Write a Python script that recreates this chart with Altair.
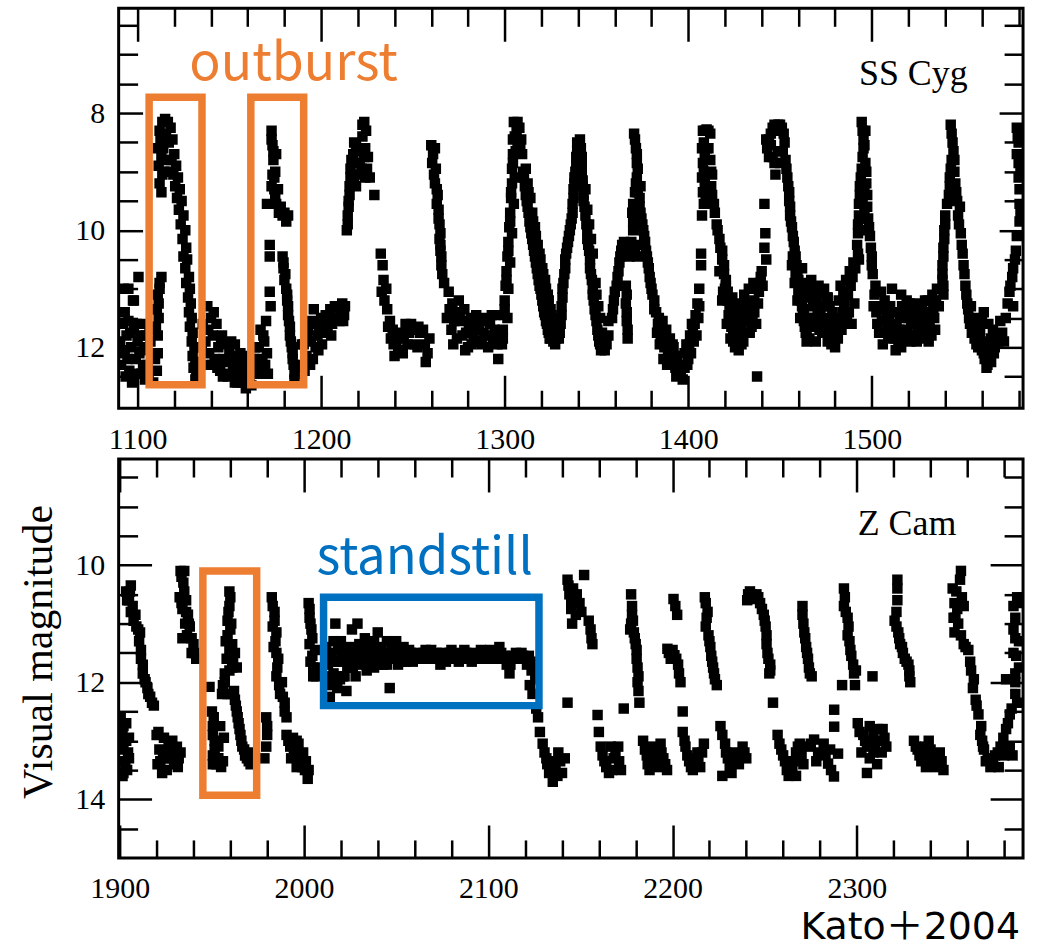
import altair as alt
import pandas as pd

ORANGE = "#ED7D31"
BLUE = "#0070C0"
SERIF = "Liberation Serif"
SANS = "Noto Sans CJK JP"
WIDE_SANS = "DejaVu Sans, Noto Sans CJK JP"

# ---------------- SS Cyg light curve (day, visual magnitude) ----------------
ss_quiet_a = [(1090.5, 11.9), (1091, 12.3), (1092, 11.6), (1092.5, 11.0), (1093, 12.1), (1094, 11.8),
              (1095, 11.0), (1095.5, 12.4), (1096.5, 12.0), (1097.5, 11.2), (1098, 11.7), (1099, 12.2),
              (1100.5, 10.8), (1100, 11.9), (1101, 12.1), (1102, 12.45), (1102.5, 11.6), (1103.5, 12.0),
              (1104.5, 11.8), (1105.5, 12.3), (1106.5, 11.7), (1107.5, 12.1), (1108.5, 12.6), (1093.5, 12.5),
              (1097, 12.6), (1091.5, 12.05), (1093, 11.4), (1094.5, 12.2), (1096, 11.75), (1098.5, 12.45),
              (1099.5, 11.6), (1101.5, 11.8), (1103, 12.3), (1104, 12.55), (1105, 12.05), (1106, 12.45),
              (1107, 11.9), (1095, 11.55), (1098, 11.2)]
ss_ob1 = [(1110.5, 12.4), (1111, 12.1), (1111, 11.8), (1111.5, 11.5), (1111.5, 11.25), (1112, 11.0), (1113, 10.8),
          (1111, 8.6), (1111.5, 8.9), (1112, 9.2), (1112, 8.3), (1113.5, 8.15), (1115, 8.1), (1116.5, 8.15),
          (1118, 8.25), (1119, 8.45), (1120, 8.7), (1121, 8.9), (1114, 8.6), (1114.5, 9.0), (1117, 8.5),
          (1118.5, 8.8), (1113, 9.35),
          (1122, 9.1), (1123, 9.3), (1124, 9.5), (1125, 9.75), (1126, 10.0), (1126.5, 10.3), (1127, 10.5),
          (1128, 10.8), (1128.5, 11.0), (1129, 11.25), (1129.5, 11.5), (1130, 11.75), (1131, 12.0),
          (1131.5, 12.25), (1132, 12.45),
          (1109.5, 12.2), (1110, 11.65), (1110.5, 11.35), (1111, 11.1), (1112, 10.9), (1112.5, 8.45),
          (1113, 8.75), (1113.5, 9.05), (1115.5, 8.35), (1116, 8.8), (1117.5, 9.0), (1119.5, 9.05),
          (1120.5, 9.25), (1121.5, 9.45), (1122.5, 9.65), (1123.5, 9.9), (1124.5, 10.15), (1125, 10.45),
          (1126, 10.65), (1126.5, 10.9), (1127.5, 11.15), (1128, 11.4), (1128.5, 11.65), (1129.5, 11.9),
          (1130, 12.15), (1130.5, 12.35), (1131.5, 12.55)]
ss_quiet_1 = [(1134, 12.3), (1135.5, 11.6), (1137, 11.9), (1138, 11.3), (1139, 12.1), (1140, 11.5), (1141, 11.8),
              (1142, 12.2), (1143, 11.6), (1144, 12.0), (1145, 12.4), (1146, 11.8), (1147, 12.2), (1148, 11.95),
              (1149, 12.5), (1150, 12.1), (1151, 11.9), (1152, 12.3), (1153, 12.6), (1154, 12.2), (1155, 12.45),
              (1156, 12.1), (1157, 12.6), (1158, 12.35), (1159, 12.7), (1160, 12.4), (1161, 12.55), (1162, 12.2),
              (1163, 12.45), (1164, 12.0),
              (1135, 12.0), (1136.5, 12.3), (1138.5, 11.7), (1140.5, 12.3), (1141.5, 11.4), (1143.5, 12.35),
              (1145.5, 11.9), (1146.5, 12.5), (1148.5, 12.25), (1150, 12.45), (1151.5, 12.15), (1153, 11.95),
              (1154.5, 12.6), (1156, 12.35), (1157.5, 12.25), (1159, 12.45), (1160.5, 12.15), (1162, 12.65),
              (1163.5, 12.2)]
ss_ob2 = [(1165, 12.4), (1166, 12.0), (1167, 11.7), (1168, 12.2), (1169, 11.9), (1170, 11.55), (1171, 12.45),
          (1170.5, 12.1), (1172, 10.25), (1172, 10.45), (1172, 11.05), (1172.5, 11.3),
          (1173, 8.3), (1173.5, 8.55), (1174, 8.8), (1173.5, 9.05), (1174.5, 9.3), (1170.5, 9.55), (1175.5, 9.55),
          (1177, 9.7), (1179, 9.75), (1181, 9.85), (1175, 9.0), (1175.5, 8.7), (1176.5, 9.3),
          (1179, 10.45), (1179.5, 10.65), (1180, 10.85), (1181, 11.0), (1181.5, 11.2), (1182, 11.45),
          (1183, 11.65), (1183.5, 11.9), (1184.5, 12.1), (1185, 12.3), (1185.5, 12.45),
          (1166, 12.3), (1167.5, 12.45), (1168.5, 11.8), (1169.5, 12.3), (1173, 8.45), (1174, 8.65),
          (1174.5, 9.1), (1173, 9.25), (1175, 9.45), (1178, 9.6), (1180, 9.7), (1182, 9.75), (1179.5, 10.55),
          (1180.5, 10.75), (1181.5, 11.1), (1182, 11.3), (1182.5, 11.55), (1183, 11.8), (1184, 12.0),
          (1184.5, 12.2), (1185.5, 12.55), (1186.5, 12.35)]
ss_quiet_2 = [(1189, 12.3), (1190.5, 11.95), (1192, 12.15), (1193, 11.7), (1194.5, 11.9), (1195.5, 12.2),
              (1196.5, 11.6), (1198, 11.8), (1198.5, 12.05), (1200, 11.5), (1201, 11.75), (1202.5, 11.45),
              (1203.5, 11.7), (1205, 11.35), (1206, 11.6), (1207.5, 11.3), (1209, 11.5), (1210.5, 11.35),
              (1212, 11.55), (1213, 11.3), (1196, 11.35),
              (1189.5, 11.95), (1191, 12.4), (1192.5, 11.85), (1194, 12.3), (1195, 11.55), (1197, 12.0),
              (1199, 11.65), (1200.5, 11.95), (1202, 11.7), (1204, 11.55), (1205.5, 11.8), (1207, 11.5),
              (1208.5, 11.3), (1210, 11.55), (1211.5, 11.25), (1212.5, 11.45)]
ss_ob3 = [(1214, 10.0), (1214.5, 9.75), (1215, 9.5), (1215.5, 9.25), (1216, 8.95), (1217.5, 8.7), (1219, 8.55),
          (1219.5, 8.85), (1220.5, 9.05), (1221.5, 8.6), (1222.5, 8.4), (1223.5, 8.15), (1224.5, 8.3),
          (1223.5, 8.75), (1225, 8.95), (1226.5, 9.1), (1218, 9.2), (1229, 9.4), (1232.5, 10.4),
          (1234, 10.85), (1233, 11.05), (1236, 11.35), (1237.5, 11.55), (1239, 11.7), (1239.5, 11.95),
          (1240, 12.15), (1243, 11.75), (1246, 11.6), (1248, 11.75), (1250.5, 11.7), (1252.5, 12.0),
          (1254, 11.75), (1255.5, 11.7), (1258, 12.1), (1244.5, 12.1),
          (1214.5, 9.9), (1215, 9.6), (1215.5, 9.4), (1216, 9.1), (1216.5, 8.8), (1218, 8.5), (1220, 8.65),
          (1221, 8.85), (1222, 8.95), (1222.5, 8.2), (1224, 8.6), (1225.5, 8.75), (1224, 9.1), (1217, 9.05),
          (1219, 9.25), (1233.5, 10.6), (1234.5, 11.2), (1235.5, 11.0), (1236.5, 11.65), (1238, 11.85),
          (1241, 11.9), (1242, 12.05), (1245, 11.85), (1247, 11.95), (1249, 11.6), (1251, 11.95),
          (1253, 11.65), (1256.5, 11.95), (1257, 12.25), (1259, 11.85)]
ss_ob4 = [(1260, 8.55), (1262, 8.6), (1260.5, 8.85), (1262.5, 8.95), (1262, 9.2), (1263.5, 9.4), (1264, 9.65),
          (1264.5, 9.9), (1264.5, 10.15), (1265, 10.35), (1265.5, 10.6), (1266, 10.75),
          (1269.5, 11.05), (1271.5, 11.25), (1268.5, 11.5), (1271, 11.7), (1272, 11.95), (1273.5, 11.4),
          (1275, 11.2), (1276.5, 11.55), (1278, 11.35), (1279, 11.75), (1280, 12.0), (1281.5, 11.5),
          (1283, 11.8), (1284.5, 11.45), (1286, 11.7), (1287.5, 11.95), (1289, 11.5), (1290.5, 11.8),
          (1292, 11.6), (1293.5, 11.85), (1295, 11.45), (1296.5, 12.2),
          (1261, 8.7), (1261.5, 9.05), (1263, 9.3), (1263, 9.55), (1264, 9.8), (1265, 10.05), (1265, 10.25),
          (1265.5, 10.45), (1267, 10.9), (1270, 11.35), (1272.5, 11.55), (1274, 11.85), (1275.5, 11.45),
          (1277, 11.8), (1278.5, 12.05), (1280.5, 11.65), (1282, 11.95), (1283.5, 11.55), (1285.5, 11.9),
          (1287, 11.55), (1288.5, 11.75), (1290, 11.55), (1291, 12.0), (1293, 11.45), (1294.5, 11.7),
          (1296, 11.95), (1297.5, 11.8)]
ss_ob5 = [(1298.5, 11.95), (1299, 11.7), (1299.5, 11.45), (1300, 11.2), (1300.5, 10.95), (1301, 10.7),
          (1301.5, 10.45), (1302, 10.2), (1302.5, 9.95), (1303, 9.7), (1303.5, 9.45), (1304, 9.2), (1304, 8.95),
          (1304.5, 8.7), (1304.5, 8.45), (1305, 8.15), (1306.5, 8.3), (1308, 8.25), (1309, 8.45),
          (1301.5, 11.5), (1302, 11.0), (1303, 10.55), (1304, 10.05), (1305, 9.55), (1305.5, 9.1), (1306, 8.65),
          (1309.5, 8.7), (1310, 9.0), (1311, 9.25), (1312, 9.5), (1313, 9.7), (1314, 9.95), (1315, 10.15),
          (1316, 10.35), (1317, 10.55), (1318, 10.75), (1319, 10.95), (1320, 11.1), (1321, 11.3), (1322, 11.45),
          (1323, 11.6), (1324, 11.75), (1325, 11.85), (1326.5, 11.9), (1328, 11.85),
          (1311.5, 8.95), (1312.5, 9.2), (1314, 9.45), (1315, 9.7), (1316.5, 9.95), (1318, 10.25),
          (1319.5, 10.5), (1321, 10.75), (1322.5, 11.0), (1324, 11.2), (1325.5, 11.45), (1327, 11.6),
          (1299, 11.85), (1300, 11.35), (1301, 10.85), (1302, 10.35), (1303, 9.85), (1303.5, 9.35),
          (1304.5, 8.85), (1305.5, 8.4), (1307, 8.15), (1307, 8.5), (1308.5, 8.6), (1310.5, 9.1),
          (1311.5, 9.4), (1312.5, 9.6), (1313.5, 9.85), (1314.5, 10.05), (1315.5, 10.25), (1316.5, 10.45),
          (1317.5, 10.65), (1318.5, 10.85), (1319.5, 11.0), (1320.5, 11.2), (1321.5, 11.4), (1322.5, 11.55),
          (1323.5, 11.7), (1324.5, 11.85), (1326, 11.7), (1327.5, 11.95), (1313, 9.35), (1315.5, 9.85),
          (1317, 10.1), (1319, 10.4), (1320.5, 10.65), (1322, 10.85), (1323.5, 11.1), (1325, 11.35),
          (1326.5, 11.5)]
ss_ob6 = [(1329.5, 11.85), (1330.5, 11.6), (1331, 11.3), (1331.5, 11.0), (1332.5, 10.75), (1333, 10.5),
          (1334, 10.3), (1335, 10.1), (1336, 9.9), (1337, 9.7), (1337.5, 9.45), (1338, 9.2), (1338.5, 9.0),
          (1339, 8.75), (1339.5, 8.5), (1341, 8.45),
          (1342, 8.75), (1342, 9.0), (1342.5, 9.25), (1343, 9.5), (1344, 9.75), (1345, 10.0), (1345.5, 10.25),
          (1346.5, 10.5), (1347, 10.75), (1348, 11.0), (1348.5, 11.2), (1349.5, 11.45), (1350.5, 11.7),
          (1351.5, 11.9), (1352.5, 12.05), (1354.5, 12.05), (1356.5, 11.8), (1356.5, 11.55),
          (1344, 9.3), (1346, 9.9), (1348, 10.4), (1349.5, 10.9), (1351, 11.3), (1353, 11.75),
          (1330, 11.75), (1331, 11.45), (1331.5, 11.15), (1332, 10.9), (1333, 10.65), (1333.5, 10.4),
          (1334.5, 10.2), (1335.5, 10.0), (1336.5, 9.8), (1337, 9.55), (1337.5, 9.3), (1338, 9.1),
          (1339, 8.9), (1339.5, 8.65), (1340.5, 8.6), (1341.5, 8.6), (1342, 8.9), (1342.5, 9.15),
          (1343, 9.4), (1343.5, 9.6), (1344.5, 9.9), (1345, 10.15), (1346, 10.35), (1346.5, 10.65),
          (1347.5, 10.85), (1348, 11.1), (1349, 11.35), (1350, 11.55), (1351, 11.8), (1352, 11.95),
          (1353.5, 12.0), (1355.5, 11.95), (1345, 9.65), (1347, 10.15), (1350, 11.1), (1352, 11.5)]
ss_ob7 = [(1358.5, 11.5), (1359.5, 11.2), (1361, 10.95), (1362, 10.7), (1363, 10.45), (1364, 10.25),
          (1366, 10.3), (1368, 10.45), (1370, 10.3), (1372, 10.45), (1366, 10.95), (1366, 11.25),
          (1366.5, 11.55), (1367, 11.85),
          (1370.5, 8.35), (1371.5, 8.6), (1372, 8.85), (1372, 9.1), (1371, 9.35), (1373.5, 9.45), (1374, 9.7),
          (1375, 9.9), (1376, 10.1), (1377, 10.35), (1378, 10.55), (1379, 10.8), (1380, 11.0), (1381.5, 11.2),
          (1369.5, 9.7), (1370, 10.0), (1382.5, 11.4),
          (1359, 11.35), (1360, 11.05), (1361.5, 10.8), (1362.5, 10.55), (1363.5, 10.35), (1365, 10.2),
          (1367, 10.35), (1369, 10.2), (1371, 10.4), (1373, 10.25), (1366.5, 11.1), (1366.5, 11.4),
          (1367, 11.7), (1371, 8.45), (1372, 8.7), (1372.5, 8.95), (1371.5, 9.2), (1372.5, 9.35),
          (1373.5, 9.6), (1374.5, 9.8), (1375.5, 10.0), (1376.5, 10.2), (1377.5, 10.45), (1378.5, 10.65),
          (1379.5, 10.9), (1380.5, 11.1), (1381.5, 11.35), (1370, 9.55), (1370, 9.85), (1374, 9.25)]
ss_quiet_8 = [(1384, 11.5), (1385, 11.8), (1386, 11.55), (1387, 12.0), (1388, 11.7), (1389, 12.1), (1390, 11.85),
              (1391, 12.25), (1392, 12.0), (1393, 12.35), (1394, 12.15), (1395, 12.45), (1396, 12.3),
              (1397, 12.55), (1398, 12.1), (1399, 11.95), (1400, 12.2), (1401, 11.8), (1402, 11.6),
              (1403, 11.9), (1404, 11.45), (1405, 11.25), (1406, 11.0), (1383, 11.75), (1386.5, 12.2),
              (1383.5, 11.6), (1384.5, 11.95), (1385.5, 11.65), (1387.5, 11.85), (1388.5, 12.3), (1390, 12.05),
              (1391.5, 11.95), (1392.5, 12.2), (1393.5, 12.5), (1394.5, 12.3), (1396, 12.45), (1398, 12.35),
              (1399.5, 12.3), (1400.5, 11.95), (1401.5, 12.1), (1402.5, 11.75), (1403.5, 11.6), (1404.5, 11.8),
              (1405.5, 11.5), (1406, 11.3)]
ss_ob8 = [(1408, 8.3), (1410, 8.28), (1412, 8.35), (1407.5, 8.6), (1408, 8.85), (1407.5, 9.1), (1408, 9.35),
          (1407.5, 9.75), (1407, 10.4), (1407, 10.6), (1412, 8.8), (1412.5, 9.25), (1414, 9.55), (1415.5, 9.9),
          (1409.5, 9.5), (1413, 9.05), (1410, 8.6),
          (1417, 10.15), (1418.5, 10.35), (1419.5, 10.6), (1420.5, 10.85), (1421.5, 11.05), (1422.5, 11.3),
          (1423.5, 11.5), (1424.5, 11.75), (1425.5, 12.0), (1427.5, 12.05), (1429, 11.7), (1430, 11.9),
          (1431, 11.5), (1432, 11.75), (1433, 11.55), (1434, 11.3), (1435, 11.5), (1436, 11.2), (1437, 11.0),
          (1438, 11.25), (1439, 10.9), (1440, 10.7), (1420, 11.0), (1422, 11.45), (1424, 11.15), (1426, 11.4),
          (1428, 11.25), (1430.5, 11.1), (1433, 11.0), (1435.5, 10.9), (1437.5, 12.5), (1427, 11.75),
          (1417, 10.7), (1418.5, 11.2),
          (1409, 8.3), (1411, 8.3), (1408.5, 8.5), (1409, 8.75), (1408.5, 9.0), (1409, 9.2), (1408.5, 9.55),
          (1411, 8.6), (1412.5, 9.0), (1413, 9.4), (1414.5, 9.7), (1416, 10.0), (1411, 9.35), (1417.5, 10.3),
          (1418.5, 10.5), (1419.5, 10.75), (1420.5, 10.95), (1421.5, 11.2), (1422.5, 11.5), (1423.5, 11.65),
          (1424.5, 11.9), (1425.5, 11.6), (1426.5, 11.9), (1428, 11.55), (1429.5, 11.35), (1431, 11.25),
          (1432, 11.35), (1433.5, 11.75), (1434.5, 11.65), (1436, 11.4), (1437, 11.6), (1438.5, 11.05),
          (1439.5, 10.8), (1440.5, 10.95), (1419, 11.05), (1421, 11.6), (1423, 11.85), (1425, 11.3),
          (1427, 11.5), (1429, 11.95)]
ss_ob9 = [(1441.5, 9.55), (1442, 10.05), (1441.5, 10.3), (1442.5, 10.5), (1442.5, 8.45), (1444, 8.75),
          (1445, 8.35), (1447, 8.2), (1449, 8.2), (1451, 8.25), (1452.5, 8.5), (1446, 8.75), (1447.5, 9.05),
          (1450, 8.85), (1453, 8.8), (1454, 9.1), (1455, 9.35), (1455.5, 9.6), (1456, 9.85), (1457, 10.1),
          (1458, 10.35), (1459, 10.6), (1460, 10.85), (1461, 11.05), (1462, 11.3), (1463, 11.55),
          (1464, 11.75), (1456.5, 10.6), (1458, 10.9), (1459.5, 11.2), (1461, 11.5),
          (1443, 8.6), (1444, 8.45), (1446, 8.25), (1448, 8.3), (1450, 8.2), (1452, 8.35), (1445, 8.55),
          (1447, 8.85), (1449, 8.65), (1451.5, 8.65), (1453.5, 8.95), (1454.5, 9.25), (1455, 9.5),
          (1455.5, 9.75), (1456.5, 9.95), (1457.5, 10.2), (1458.5, 10.45), (1459.5, 10.7), (1460.5, 10.95),
          (1461.5, 11.2), (1462.5, 11.45), (1463.5, 11.65), (1457, 10.45), (1458.5, 10.75), (1460, 11.05),
          (1464.5, 11.9)]
ss_quiet_10 = [(1462, 10.65), (1463.5, 11.1), (1465, 11.5), (1466, 11.85), (1467, 10.85), (1468, 11.3),
               (1469, 11.65), (1470, 11.2), (1471, 10.95), (1472, 11.4), (1473, 11.75), (1474, 11.0),
               (1475, 11.5), (1476, 11.9), (1477, 11.3), (1478, 11.95), (1479, 11.6), (1480, 12.0),
               (1481, 11.5), (1482, 11.2), (1483, 10.95), (1484, 11.4), (1485, 11.25), (1486, 10.85),
               (1487, 11.1), (1488, 10.7), (1489, 11.6), (1490, 10.55), (1476, 11.15), (1470, 11.55),
               (1480.5, 11.75), (1466, 11.0), (1483.5, 11.7), (1486.5, 11.45),
               (1462.5, 10.9), (1463, 11.35), (1464.5, 11.7), (1465.5, 11.15), (1467.5, 11.1), (1468.5, 11.5),
               (1469.5, 11.9), (1470.5, 11.35), (1471.5, 11.7), (1472.5, 11.05), (1473.5, 11.3),
               (1474.5, 11.65), (1475.5, 11.15), (1476.5, 11.55), (1477.5, 11.75), (1478.5, 11.4),
               (1479.5, 11.85), (1481.5, 11.85), (1482.5, 11.55), (1484.5, 11.05), (1485.5, 11.6),
               (1487.5, 11.4), (1488.5, 10.95), (1489.5, 10.8), (1490.5, 11.25), (1491, 10.65)]
ss_ob10 = [(1494.5, 8.15), (1496.5, 8.3), (1495.5, 8.6), (1494.5, 8.95), (1493.5, 9.25), (1493, 9.55),
           (1492.5, 9.9), (1492, 10.25), (1493, 10.5), (1497, 9.0), (1497.5, 9.4), (1498, 9.8), (1499, 10.1),
           (1500, 10.45), (1500.5, 10.75), (1496, 9.7), (1496, 9.3), (1495, 10.0),
           (1495, 8.3), (1495.5, 8.45), (1495, 8.75), (1494, 9.1), (1493.5, 9.4), (1493, 9.75), (1492.5, 10.05),
           (1492.5, 10.4), (1496, 8.55), (1496.5, 8.85), (1497, 9.2), (1497.5, 9.6), (1498.5, 9.95),
           (1499.5, 10.3), (1500, 10.6), (1495, 9.5), (1494.5, 9.8)]
ss_quiet_11 = [(1501.5, 11.1), (1502.5, 11.4), (1504, 11.75), (1505, 11.05), (1507, 11.2), (1508, 11.5),
               (1509, 11.85), (1510, 11.3), (1511, 11.0), (1512, 11.6), (1513, 12.05), (1514, 11.4),
               (1515, 11.7), (1516, 11.1), (1517, 11.5), (1518, 11.85), (1519, 11.2), (1520, 11.5),
               (1521, 11.9), (1522, 11.3), (1523, 11.6), (1524, 11.25), (1525, 11.7), (1526, 11.45),
               (1527, 11.85), (1528, 11.5), (1529, 11.2), (1530, 11.65), (1531, 11.9), (1532, 11.4),
               (1533, 11.1), (1534, 11.5), (1535, 11.2), (1506, 11.95), (1516, 12.0),
               (1501, 11.3), (1502, 10.95), (1503, 11.6), (1504.5, 11.3), (1505.5, 11.55), (1506.5, 11.75),
               (1507.5, 11.35), (1508.5, 11.7), (1509.5, 11.55), (1510.5, 11.75), (1511.5, 11.4),
               (1512.5, 11.85), (1513.5, 11.6), (1514.5, 11.9), (1515.5, 11.45), (1516.5, 11.3),
               (1517.5, 11.7), (1518.5, 11.4), (1519.5, 11.75), (1520.5, 11.25), (1521.5, 11.55),
               (1522.5, 11.8), (1523.5, 11.4), (1524.5, 11.9), (1525.5, 11.3), (1526.5, 11.65),
               (1527.5, 11.35), (1528.5, 11.75), (1529.5, 11.45), (1530.5, 11.2), (1531.5, 11.6),
               (1532.5, 11.8), (1533.5, 11.35), (1534.5, 11.7), (1535.5, 11.0), (1536.5, 11.3)]
ss_ob11 = [(1543, 8.2), (1544, 8.5), (1543.5, 8.8), (1542.5, 9.1), (1542, 9.4), (1540, 9.75), (1539.5, 10.0),
           (1539, 10.3), (1538.5, 10.6), (1538.5, 10.85), (1539, 11.1), (1546, 9.35), (1545, 9.0),
           (1547.5, 9.9), (1549, 10.25), (1550, 10.6), (1551, 10.95), (1552, 11.25), (1553, 11.5),
           (1554.5, 11.75), (1556, 11.85), (1558, 12.0), (1560, 12.05), (1561.5, 12.2), (1563, 12.3),
           (1565, 12.25), (1567, 12.0), (1566, 11.7), (1561, 11.4), (1563.5, 11.6), (1569, 11.9),
           (1571, 11.75), (1573, 11.5), (1556, 11.5), (1559, 11.7), (1548, 9.6),
           (1543.5, 8.35), (1544.5, 8.65), (1543, 8.95), (1542.5, 9.25), (1541, 9.55), (1540, 9.9),
           (1539.5, 10.15), (1539, 10.45), (1538.5, 10.75), (1539, 10.95), (1545, 8.8), (1545.5, 9.2),
           (1546.5, 9.5), (1547, 9.75), (1548.5, 10.05), (1549.5, 10.4), (1550.5, 10.75), (1551.5, 11.1),
           (1552.5, 11.35), (1553.5, 11.6), (1555, 11.65), (1557, 11.95), (1559, 11.85), (1561, 12.1),
           (1562, 11.9), (1564, 12.05), (1565, 11.85), (1566.5, 12.1), (1568, 11.8), (1570, 11.55),
           (1572, 11.9), (1560, 11.55), (1562.5, 12.35), (1554, 11.3)]
ss_ob12 = [(1575, 11.05), (1576.5, 10.8), (1578, 10.5), (1579, 8.25), (1579, 8.7), (1580, 9.1),
           (1580.5, 9.55), (1580.5, 9.85), (1580, 8.5), (1581, 8.95), (1577, 11.3),
           (1574, 11.25), (1575.5, 10.95), (1577, 10.65), (1578.5, 10.35), (1579.5, 8.4), (1580, 8.85),
           (1580.5, 9.3), (1581, 9.7), (1579, 10.1)]

# ---------------- Z Cam light curve (day, visual magnitude) ----------------
zc_a = [(1903.5, 10.45), (1905, 10.6), (1906, 10.35), (1906, 10.8), (1907.5, 10.95), (1909, 11.05),
        (1911, 11.15), (1911.5, 11.45), (1912.5, 11.7), (1913.5, 11.95), (1915, 12.1), (1916.5, 12.25),
        (1918.5, 12.4), (1900.5, 12.6), (1903.5, 12.7), (1901.5, 12.9), (1905, 12.95), (1902, 13.15),
        (1900.5, 13.35), (1903, 13.4), (1901.5, 13.6), (1905, 13.3),
        (1904, 10.6), (1905.5, 10.45), (1907, 10.7), (1908.5, 10.85), (1910, 11.1), (1910.5, 11.3),
        (1911.5, 11.6), (1912.5, 11.85), (1914, 12.0), (1915.5, 12.2), (1917.5, 12.35), (1902, 12.75),
        (1903.5, 13.0), (1904.5, 13.2), (1902, 13.55), (1900.5, 13.05), (1904, 13.5)]
zc_quiet_1 = [(1920, 12.9), (1921.5, 13.15), (1920.5, 13.4), (1923, 13.55), (1925, 13.3), (1926.5, 13.05),
              (1928, 13.2), (1929.5, 13.4), (1931, 13.1), (1932, 13.3), (1924, 12.95),
              (1921, 12.85), (1922, 13.35), (1923.5, 13.2), (1925.5, 13.5), (1927, 13.3), (1928.5, 13.0),
              (1930, 13.25), (1931.5, 13.45), (1933, 13.2)]
zc_ob2 = [(1933, 10.1), (1934.5, 10.3), (1932.5, 10.55), (1934, 10.75), (1936, 10.6), (1937, 10.85),
          (1935.5, 11.0), (1938, 11.05), (1934, 11.25), (1940, 11.35), (1941.5, 11.6), (1939, 11.5),
          (1933.5, 10.2), (1935, 10.45), (1933.5, 10.65), (1936, 10.8), (1937.5, 11.0), (1936.5, 11.2),
          (1939, 11.25), (1940.5, 11.5), (1935, 10.1)]
zc_ob3 = [(1959.5, 10.45), (1959.5, 10.7), (1958.5, 10.95), (1960, 11.1), (1957.5, 11.3), (1961, 11.35),
          (1958, 11.6), (1961.5, 11.6), (1963.5, 11.75), (1959.5, 11.8), (1957, 11.85),
          (1948.7, 12.08), (1956, 12.05), (1958.5, 12.2), (1950, 12.5), (1950.5, 12.75), (1951.5, 13.0),
          (1950.5, 13.25), (1952.5, 13.4), (1956, 13.35), (1954.5, 12.75), (1953.5, 13.1), (1956.5, 12.95),
          (1962, 12.15), (1963, 12.4), (1964, 12.6), (1965, 12.8), (1966, 13.0), (1967.5, 13.15),
          (1969, 13.3), (1971, 13.4), (1972, 13.2),
          (1960, 10.55), (1959, 10.8), (1960.5, 11.0), (1958.5, 11.2), (1959.5, 11.45), (1962.5, 11.5),
          (1961, 11.75), (1955.5, 12.2), (1957, 12.0), (1951, 12.6), (1950.5, 12.9), (1951.5, 13.15),
          (1953.5, 13.3), (1955, 13.45), (1950.5, 13.4), (1962.5, 12.3), (1963.5, 12.5), (1964.5, 12.7),
          (1965.5, 12.9), (1966.5, 13.1), (1968, 13.25), (1970, 13.35), (1960.5, 12.2)]
zc_ob4 = [(1982.5, 10.55), (1984, 10.8), (1983, 11.05), (1985, 11.15), (1983.5, 11.4), (1986, 11.6),
          (1985, 11.9), (1988, 12.0), (1987, 12.2), (1989.5, 12.35), (1990.5, 12.6), (1979.5, 12.6),
          (1980, 12.9), (1978.5, 13.3),
          (1983, 10.7), (1984, 10.95), (1984.5, 11.3), (1985, 11.5), (1985.5, 11.75), (1986.5, 12.05),
          (1988.5, 12.25), (1989.5, 12.5), (1980, 12.75), (1979.5, 13.1)]
zc_quiet_4 = [(1990.5, 12.9), (1992.5, 13.1), (1994, 12.95), (1995, 13.25), (1997, 13.05), (1998, 13.35),
              (1999.5, 13.2), (2000.5, 13.5), (2002, 13.65), (1996, 13.45),
              (1991.5, 13.0), (1993, 13.3), (1994.5, 13.15), (1996, 13.0), (1997.5, 13.25), (1999, 13.45),
              (2001, 13.35), (2002.5, 13.5)]
zc_ob5 = [(2002.5, 10.65), (2003, 10.9), (2004, 11.1), (2003, 11.35), (2006, 11.45), (2003.5, 11.65),
          (2005, 11.9), (2007.5, 11.75),
          (2003, 10.75), (2003.5, 11.0), (2004.5, 11.25), (2004.5, 11.55), (2005, 11.75), (2006.5, 11.9)]
zc_standstill = [(2012, 11.4), (2012.5, 12.0), (2013, 11.7), (2014, 12.25), (2015, 11.55), (2016, 11.85),
                 (2017, 11.0), (2018, 12.1), (2019, 11.65), (2020, 11.3), (2021, 11.9), (2022, 11.6),
                 (2023, 12.15), (2024, 11.45), (2025, 11.75), (2026, 11.1), (2027, 11.6), (2028, 11.9),
                 (2029, 11.0), (2030, 11.35), (2031, 11.7), (2032, 11.55), (2033, 11.25), (2034, 11.8),
                 (2035, 11.5), (2036, 11.65), (2037, 11.4), (2038, 11.75), (2039, 11.5), (2040, 11.15),
                 (2041, 11.6), (2042, 11.4), (2043, 11.7), (2044, 11.5), (2045, 11.3), (2046.5, 12.1),
                 (2047, 11.55), (2048, 11.35), (2049, 11.6), (2050, 11.3), (2051, 11.55), (2052, 11.45),
                 (2053, 11.65), (2054, 11.4), (2056, 11.55), (2058, 11.5), (2060, 11.6), (2062, 11.5),
                 (2064, 11.55), (2066, 11.45), (2068, 11.6), (2070, 11.55), (2072, 11.5), (2074, 11.7),
                 (2076, 11.55), (2078, 11.6), (2080, 11.45), (2082, 11.55), (2084, 11.65), (2086, 11.6),
                 (2088, 11.5), (2090, 11.6), (2092, 11.5), (2094, 11.55), (2096, 11.45), (2098, 11.6),
                 (2100, 11.6), (2102, 11.55), (2104, 11.5), (2106, 11.4), (2108, 11.6), (2110, 11.7),
                 (2111.5, 11.85), (2113, 11.55), (2115, 11.5), (2117, 11.6), (2119, 11.55), (2121, 11.7),
                 (2122.5, 12.05), (2124, 12.2), (2125, 11.65), (2126, 12.45),
                 (2013, 11.5), (2014, 11.9), (2015, 12.05), (2016, 11.3), (2017.5, 11.65), (2018.5, 11.45),
                 (2019.5, 11.95), (2020.5, 11.6), (2022, 11.9), (2023.5, 11.75), (2025, 11.4), (2026.5, 11.75),
                 (2028, 11.45), (2030, 11.6), (2031.5, 11.45), (2033, 11.65), (2035, 11.35), (2036.5, 11.55),
                 (2038, 11.3), (2040, 11.7), (2041.5, 11.5), (2043.5, 11.55), (2045, 11.7), (2047.5, 11.4),
                 (2049.5, 11.45), (2051, 11.7), (2053.5, 11.5), (2055, 11.65), (2057, 11.45), (2059, 11.65),
                 (2061, 11.55), (2063, 11.6), (2065, 11.5), (2067, 11.55), (2069, 11.45), (2071, 11.6),
                 (2073, 11.6), (2075, 11.5), (2077, 11.65), (2079, 11.5), (2081, 11.6), (2083, 11.5),
                 (2085, 11.55), (2087, 11.45), (2089, 11.55), (2091, 11.65), (2093, 11.55), (2095, 11.6),
                 (2097, 11.5), (2099, 11.55), (2101, 11.45), (2103, 11.6), (2105, 11.55), (2107, 11.5),
                 (2109, 11.55), (2112, 11.7), (2114, 11.6), (2116, 11.55), (2118, 11.5), (2120, 11.6),
                 (2122, 11.55), (2123.5, 11.8), (2125.5, 11.95)]
zc_quiet_6 = [(2129.5, 13.05), (2131.5, 13.3), (2133, 13.55), (2135, 13.7), (2136.5, 13.45), (2138, 13.2),
              (2140, 13.55), (2141.5, 13.3), (2143, 12.35), (2127, 12.6),
              (2130.5, 13.2), (2132, 13.4), (2134, 13.35), (2137.5, 13.6), (2139, 13.35), (2128, 12.85)]
zc_ob6 = [(2143, 10.25), (2144, 10.5), (2146, 10.4), (2145, 10.75), (2147.5, 10.85), (2149.5, 10.65),
          (2152, 10.17), (2155.5, 11.1), (2156.5, 11.35), (2145.5, 11.0),
          (2143.5, 10.35), (2145, 10.6), (2146.5, 10.6), (2148, 10.5), (2150.5, 10.8), (2156, 11.25),
          (2154.5, 10.95)]
zc_quiet_7 = [(2159.3, 12.56), (2161, 13.1), (2163, 13.35), (2165.5, 13.55), (2168, 13.3), (2170.5, 13.1),
              (2172, 13.5), (2173.5, 12.45), (2166.5, 13.1),
              (2160, 12.85), (2162, 13.25), (2164, 13.45), (2167, 13.5), (2169, 13.2), (2171, 13.35)]
zc_ob7 = [(2178, 10.7), (2178.5, 10.95), (2177, 11.1), (2179.5, 11.25), (2180.5, 11.45), (2181, 11.75),
          (2181, 12.0), (2182, 12.35), (2177.5, 10.5),
          (2178, 10.85), (2177.5, 11.0), (2179, 11.15), (2180, 11.35), (2180.5, 11.6), (2181.5, 11.9),
          (2181.5, 12.15)]
zc_quiet_8 = [(2184, 13.0), (2186, 13.25), (2187.5, 13.5), (2189, 13.1), (2191, 13.35), (2193.5, 13.05),
              (2195, 13.3), (2197, 13.5),
              (2185, 13.15), (2186.5, 13.4), (2188, 13.25), (2190, 13.2), (2192, 13.45), (2194, 13.2),
              (2196, 13.4)]
zc_ob8 = [(2200.5, 10.58), (2202.5, 10.85), (2197.2, 11.43), (2201, 11.54), (2203, 11.7), (2204.3, 12.0),
          (2199, 11.6), (2205.5, 12.5),
          (2201.5, 10.7), (2198, 11.5), (2202, 11.6), (2203.5, 11.85), (2200, 11.45)]
zc_quiet_9 = [(2205.5, 12.85), (2207, 13.1), (2209, 13.35), (2211, 13.5), (2213.5, 13.2), (2215, 13.45),
              (2217, 13.05),
              (2206.5, 13.0), (2208, 13.25), (2210, 13.45), (2212, 13.3), (2214, 13.35), (2216, 13.2)]
zc_ob9 = [(2217.5, 10.55), (2219, 10.8), (2218, 11.05), (2220, 11.3), (2221, 11.55), (2222, 11.75),
          (2223, 11.95), (2224, 12.05),
          (2218, 10.65), (2218.5, 10.9), (2219.5, 11.2), (2220.5, 11.4), (2221.5, 11.65), (2222.5, 11.85)]
zc_quiet_10 = [(2226, 12.75), (2228.5, 13.05), (2230, 13.3), (2232, 13.55), (2234, 13.2), (2236, 13.4),
               (2238, 13.1), (2240, 13.3), (2227, 13.6),
               (2227, 12.9), (2229, 13.2), (2231, 13.45), (2233, 13.35), (2235, 13.3), (2237, 13.25),
               (2239, 13.2)]
zc_ob10 = [(2240.5, 10.6), (2242, 10.45), (2244, 10.58), (2246.5, 10.55), (2248.5, 10.75), (2250, 10.95),
           (2251, 11.2), (2251.5, 11.5), (2253, 11.7), (2252.5, 11.85), (2254.5, 12.35),
           (2241, 10.5), (2243, 10.5), (2245.5, 10.5), (2247.5, 10.65), (2249.5, 10.85), (2250.5, 11.05),
           (2251, 11.35), (2252, 11.6), (2253, 11.8)]
zc_quiet_11 = [(2257, 12.9), (2259, 13.15), (2261, 13.35), (2263, 13.6), (2265, 13.45), (2267, 13.2),
               (2269, 13.05), (2271, 13.4), (2267, 13.6),
               (2258, 13.05), (2260, 13.25), (2262, 13.5), (2264, 13.5), (2266, 13.35), (2268, 13.1),
               (2270, 13.25)]
zc_ob11 = [(2270.5, 10.7), (2271, 11.0), (2272, 11.25), (2273, 11.5), (2274, 11.75), (2275.5, 11.9),
           (2270.5, 10.85), (2271.5, 11.15), (2272.5, 11.4), (2273.5, 11.6), (2274.5, 11.85)]
zc_quiet_12 = [(2273.6, 13.1), (2276.8, 12.98), (2280.6, 13.22), (2284.4, 13.39), (2287.6, 13.61),
               (2289.8, 13.22), (2287.7, 12.76), (2287.7, 12.47), (2278, 13.35), (2282, 13.05),
               (2275, 13.05), (2279, 13.2), (2283, 13.25), (2286, 13.5), (2285.5, 13.15)]
zc_ob12 = [(2293, 10.4), (2293, 10.7), (2295, 10.9), (2295, 11.2), (2296.5, 11.45), (2298, 11.7),
           (2299.5, 11.8), (2292, 12.05), (2299, 12.05), (2308.5, 11.9),
           (2293.5, 10.55), (2294, 10.8), (2295.5, 11.05), (2296, 11.3), (2297, 11.55), (2298.5, 11.85)]
zc_quiet_13 = [(2300.5, 12.7), (2303.5, 12.9), (2309, 12.9), (2312.5, 13.0), (2305.5, 13.1), (2316, 13.1),
               (2309, 13.2), (2305.5, 13.55), (2311, 13.4), (2302.5, 13.2), (2314, 12.8),
               (2301.5, 12.85), (2304.5, 13.0), (2307, 13.3), (2310, 13.05), (2313.5, 13.2), (2315, 12.95),
               (2307, 12.75), (2311.5, 12.8)]
zc_ob13 = [(2322, 10.25), (2322, 10.6), (2320.5, 10.95), (2322.5, 11.15), (2323.5, 11.35), (2325, 11.5),
           (2327, 11.65), (2328.5, 11.8), (2329, 12.0),
           (2322, 10.4), (2321.5, 10.8), (2321.5, 11.05), (2323, 11.25), (2324.5, 11.4), (2326, 11.6),
           (2328, 11.7), (2328.5, 11.9)]
zc_quiet_14 = [(2331, 13.0), (2333, 13.15), (2335, 13.35), (2337, 13.1), (2339, 13.0), (2341, 13.25),
               (2343, 13.45), (2345, 13.2), (2347, 13.5), (2337.5, 13.45),
               (2332, 13.1), (2334, 13.25), (2336, 13.2), (2338, 13.3), (2340, 13.15), (2342, 13.35),
               (2344, 13.3), (2346, 13.35)]
zc_ob14 = [(2356.5, 10.1), (2352, 10.4), (2353, 10.65), (2358, 10.7), (2353, 11.15), (2358, 11.35),
           (2360.5, 11.45), (2362, 11.8), (2363.5, 11.95), (2364.5, 12.3), (2355, 11.0), (2352.5, 10.9),
           (2366, 12.55), (2367.5, 12.75), (2368, 13.0), (2369, 13.15), (2371, 13.3), (2372.5, 13.45),
           (2375, 13.25), (2378, 13.1), (2381, 12.8), (2383, 12.55), (2387, 12.35), (2381, 11.95),
           (2386, 12.0), (2385, 11.5), (2385, 11.1), (2385, 10.7), (2387, 10.55), (2384.5, 13.25),
           (2377, 13.45), (2388, 11.75), (2388, 11.3),
           (2356, 10.25), (2354, 10.45), (2354.5, 10.75), (2357, 10.55), (2353.5, 10.9), (2356.5, 11.2),
           (2359, 11.4), (2361.5, 11.65), (2363, 12.1), (2365, 12.4), (2367, 12.9), (2368.5, 13.1),
           (2370, 13.35), (2374, 13.4), (2376.5, 13.2), (2379.5, 12.95), (2382, 12.7), (2384, 12.45),
           (2386, 12.2), (2386, 11.85), (2386.5, 11.55), (2386, 11.25), (2386, 10.9), (2388, 10.65),
           (2380, 13.25), (2383, 13.1)]

ss_segments = [ss_quiet_a, ss_ob1, ss_quiet_1, ss_ob2, ss_quiet_2, ss_ob3, ss_ob4, ss_ob5, ss_ob6, ss_ob7,
               ss_quiet_8, ss_ob8, ss_ob9, ss_quiet_10, ss_ob10, ss_quiet_11, ss_ob11, ss_ob12]
zc_segments = [zc_a, zc_quiet_1, zc_ob2, zc_ob3, zc_ob4, zc_quiet_4, zc_ob5, zc_standstill, zc_quiet_6,
               zc_ob6, zc_quiet_7, zc_ob7, zc_quiet_8, zc_ob8, zc_quiet_9, zc_ob9, zc_quiet_10, zc_ob10,
               zc_quiet_11, zc_ob11, zc_quiet_12, zc_ob12, zc_quiet_13, zc_ob13, zc_quiet_14, zc_ob14]

# ---------------- axes: domains and tick values ----------------
ss_x_domain = [1089.7, 1582.4]
ss_y_domain = [6.21, 13.04]
zc_x_domain = [1899.4, 2390.2]
zc_y_domain = [8.19, 15.0]
ss_x_major = [1100, 1200, 1300, 1400, 1500]
ss_x_minor = [1120, 1140, 1160, 1180, 1220, 1240, 1260, 1280, 1320, 1340, 1360, 1380,
              1420, 1440, 1460, 1480, 1520, 1540, 1560, 1580]
ss_y_major = [8, 10, 12]
ss_y_minor = [6.5, 7, 7.5, 8.5, 9, 9.5, 10.5, 11, 11.5, 12.5]
zc_x_major = [1900, 2000, 2100, 2200, 2300]
zc_x_minor = [1920, 1940, 1960, 1980, 2020, 2040, 2060, 2080, 2120, 2140, 2160, 2180,
              2220, 2240, 2260, 2280, 2320, 2340, 2360, 2380]
zc_y_major = [10, 12, 14]
zc_y_minor = [8.5, 9, 9.5, 10.5, 11, 11.5, 12.5, 13, 13.5, 14.5]

# ---------------- annotations (data coordinates) ----------------
ss_box_x1 = [1106.3, 1161.7]
ss_box_x2 = [1135.1, 1190.5]
ss_box_y1 = [7.73, 7.73]
ss_box_y2 = [12.64, 12.64]
ss_box_color = [ORANGE, ORANGE]
zc_box_x1 = [1945.1, 2010.6]
zc_box_x2 = [1974.3, 2127.5]
zc_box_y1 = [10.1, 10.55]
zc_box_y2 = [13.93, 12.4]
zc_box_color = [ORANGE, BLUE]


def to_df(segments):
    days, mags = [], []
    for seg in segments:
        for d, m in seg:
            days.append(d)
            mags.append(m)
    return pd.DataFrame({"day": days, "mag": mags})


def axis(orient, values, length, labels=False, pad=0, title=None, **extra):
    kw = dict(orient=orient, values=values, tickSize=length, offset=-length, domain=False,
              grid=False, ticks=True, tickColor="black", tickWidth=2.5, labels=labels, title=title)
    if labels:
        kw.update(labelFont=SERIF, labelFontSize=30, labelColor="black", labelPadding=pad, format="d")
    kw.update(extra)
    return alt.Axis(**kw)


def panel(df, xdom, ydom, h, xmaj, xmin, ymaj, ymin, ymaj_len, boxes, note, star, ytitle_kw, extra=()):
    xs = alt.Scale(domain=xdom, nice=False, zero=False)
    ys = alt.Scale(domain=ydom, reverse=True, nice=False, zero=False)
    pts = alt.Chart(df).mark_square(size=110, color="black", opacity=1, clip=True).encode(
        x=alt.X("day:Q", scale=xs, axis=axis("bottom", xmaj, 33, labels=True, pad=16)),
        y=alt.Y("mag:Q", scale=ys, axis=axis("left", ymaj, ymaj_len, labels=True, pad=14, **ytitle_kw)),
    )
    rects = alt.Chart(boxes).mark_rect(fillOpacity=0, strokeWidth=7.5).encode(
        x=alt.X("x1:Q", scale=xs, axis=axis("bottom", xmin, 18)),
        x2="x2:Q",
        y=alt.Y("y1:Q", scale=ys, axis=axis("left", ymin, 19)),
        y2="y2:Q",
        stroke=alt.Stroke("color:N", scale=None),
    )
    nt, nx, ny, ncol, nsize = note
    notes = alt.Chart(pd.DataFrame({"x": [nx], "y": [ny], "t": [nt]})).mark_text(
        font=SANS, fontSize=nsize, color=ncol, align="center", baseline="alphabetic").encode(
        x=alt.X("x:Q", scale=xs, axis=axis("top", xmaj, 33)),
        y=alt.Y("y:Q", scale=ys, axis=axis("right", ymaj, ymaj_len)),
        text="t:N",
    )
    st, sx, sy = star
    stars = alt.Chart(pd.DataFrame({"x": [sx], "y": [sy], "t": [st]})).mark_text(
        font=SERIF, fontSize=36, color="black", align="center", baseline="alphabetic").encode(
        x=alt.X("x:Q", scale=xs, axis=axis("top", xmin, 18)),
        y=alt.Y("y:Q", scale=ys, axis=axis("right", ymin, 19)),
        text="t:N",
    )
    return alt.layer(pts, rects, notes, stars, *extra).properties(width=907, height=h).resolve_axis(
        x="independent", y="independent")


ss_boxes = pd.DataFrame({"x1": ss_box_x1, "x2": ss_box_x2, "y1": ss_box_y1, "y2": ss_box_y2,
                         "color": ss_box_color})
zc_boxes = pd.DataFrame({"x1": zc_box_x1, "x2": zc_box_x2, "y1": zc_box_y1, "y2": zc_box_y2,
                         "color": zc_box_color})

top = panel(to_df(ss_segments), ss_x_domain, ss_y_domain, 401, ss_x_major, ss_x_minor, ss_y_major,
            ss_y_minor, 24, ss_boxes, ("outburst", 1185.0, 7.44, ORANGE, 52), ("SS Cyg", 1522.6, 7.52), {})

kato = alt.Chart(pd.DataFrame({"t": ["Kato＋2004"]})).mark_text(
    font=WIDE_SANS, fontSize=38, color="black", align="right", baseline="alphabetic").encode(
    x=alt.value(904), y=alt.value(481), text="t:N")

bottom = panel(to_df(zc_segments), zc_x_domain, zc_y_domain, 400, zc_x_major, zc_x_minor, zc_y_major,
               zc_y_minor, 33, zc_boxes, ("standstill", 2065.5, 10.15, BLUE, 51), ("Z Cam", 2327.2, 9.48),
               dict(title="Visual  magnitude", titleFont=SERIF, titleFontSize=42, titleFontWeight="normal",
                    titleColor="black", titlePadding=14, titleY=193),
               extra=(kato,))

chart = alt.vconcat(top, bottom, spacing=51, bounds="flush").properties(
    padding={"left": 16, "top": 4, "right": 13, "bottom": 0}, background="white"
).configure_view(stroke="black", strokeWidth=3)

chart.save("out.html", embed_options={"renderer": "svg", "actions": False})
